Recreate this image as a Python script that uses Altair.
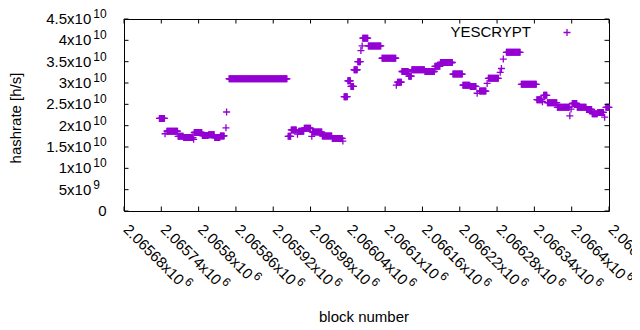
import altair as alt
import pandas as pd

FONT = "Liberation Sans"
PURPLE = "#9400d3"

# runs of consecutive blocks sharing the same hashrate estimate (h/s)
run_start = [2065737, 2065746, 2065749, 2065767, 2065776, 2065792, 2065793, 2065806, 2065816, 2065826,
             2065835, 2065844, 2065845, 2065849, 2065944, 2065949, 2065959, 2065961, 2065970, 2065982,
             2065983, 2065999, 2066015, 2066032, 2066034, 2066040, 2066045, 2066050, 2066056, 2066061,
             2066063, 2066064, 2066073, 2066095, 2066118, 2066120, 2066127, 2066138, 2066143, 2066164,
             2066180, 2066189, 2066209, 2066225, 2066237, 2066248, 2066252, 2066264, 2066266, 2066285,
             2066287, 2066290, 2066295, 2066319, 2066344, 2066353, 2066355, 2066361, 2066377, 2066397,
             2066399, 2066401, 2066409, 2066424, 2066433, 2066442, 2066453, 2066455]
run_end = [2065745, 2065746, 2065766, 2065775, 2065791, 2065792, 2065805, 2065815, 2065825, 2065834,
           2065841, 2065844, 2065845, 2065942, 2065948, 2065957, 2065959, 2065969, 2065980, 2065982,
           2065998, 2066014, 2066031, 2066032, 2066039, 2066044, 2066049, 2066055, 2066060, 2066061,
           2066063, 2066072, 2066093, 2066117, 2066118, 2066126, 2066137, 2066142, 2066163, 2066179,
           2066188, 2066208, 2066224, 2066236, 2066246, 2066248, 2066262, 2066264, 2066282, 2066285,
           2066287, 2066290, 2066317, 2066343, 2066352, 2066353, 2066360, 2066376, 2066396, 2066397,
           2066399, 2066408, 2066423, 2066432, 2066441, 2066451, 2066453, 2066460]
run_hashrate = [2.17e10, 1.81e10, 1.87e10, 1.75e10, 1.72e10, 1.68e10, 1.84e10, 1.77e10, 1.79e10, 1.72e10,
                1.76e10, 1.95e10, 2.32e10, 3.10e10, 1.75e10, 1.90e10, 1.80e10, 1.87e10, 1.94e10, 1.75e10,
                1.85e10, 1.76e10, 1.70e10, 1.64e10, 2.68e10, 3.05e10, 2.92e10, 3.31e10, 3.50e10, 3.76e10,
                3.87e10, 4.05e10, 3.87e10, 3.58e10, 2.95e10, 3.02e10, 3.27e10, 3.16e10, 3.31e10, 3.27e10,
                3.39e10, 3.48e10, 3.21e10, 2.95e10, 2.92e10, 2.76e10, 2.81e10, 2.99e10, 3.11e10, 3.25e10,
                3.34e10, 3.56e10, 3.72e10, 2.97e10, 2.61e10, 2.56e10, 2.71e10, 2.54e10, 2.43e10, 2.23e10,
                2.39e10, 2.52e10, 2.43e10, 2.38e10, 2.28e10, 2.31e10, 2.20e10, 2.43e10]

x_ticks = [2065680, 2065740, 2065800, 2065860, 2065920, 2065980, 2066040,
           2066100, 2066160, 2066220, 2066280, 2066340, 2066400, 2066460]
x_tick_main = ["2.06568x10", "2.06574x10", "2.0658x10", "2.06586x10", "2.06592x10", "2.06598x10",
               "2.06604x10", "2.0661x10", "2.06616x10", "2.06622x10", "2.06628x10", "2.06634x10",
               "2.0664x10", "2.06646x10"]
x_tick_exp = ["6"] * len(x_ticks)

y_ticks = [0, 5e9, 1e10, 1.5e10, 2e10, 2.5e10, 3e10, 3.5e10, 4e10, 4.5e10]
y_tick_main = ["0", "5x10", "1x10", "1.5x10", "2x10", "2.5x10", "3x10", "3.5x10", "4x10", "4.5x10"]
y_tick_exp = ["", "9", "10", "10", "10", "10", "10", "10", "10", "10"]

rows = []
for s, e, v in zip(run_start, run_end, run_hashrate):
    for b in range(s, e + 1):
        rows.append({"block": b, "hashrate": v})
df = pd.DataFrame(rows)

xt = pd.DataFrame({"b": x_ticks, "main": x_tick_main, "exp": x_tick_exp})
yt = pd.DataFrame({"v": y_ticks, "main": y_tick_main, "exp": y_tick_exp})
one = pd.DataFrame({"k": [0]})

W, H = 485, 192
xs = alt.Scale(domain=[2065680, 2066460], nice=False, zero=False)
ys = alt.Scale(domain=[0, 4.5e10], nice=False, zero=False)
PLUS = "M-1,0L1,0M0,-1L0,1"

X = lambda f: alt.X(f, type="quantitative", scale=xs, axis=None)
Y = lambda f: alt.Y(f, type="quantitative", scale=ys, axis=None)

pts = alt.Chart(df).mark_point(shape=PLUS, filled=False, size=49, strokeWidth=1.3,
                               color=PURPLE, opacity=1).encode(x=X("block"), y=Y("hashrate"))

tick_l = alt.Chart(yt).mark_rule(color="black", strokeWidth=1).encode(
    y=Y("v"), x=alt.value(0), x2=alt.value(4.5))
tick_r = alt.Chart(yt).mark_rule(color="black", strokeWidth=1).encode(
    y=Y("v"), x=alt.value(W - 4.5), x2=alt.value(W))
tick_b = alt.Chart(xt).mark_rule(color="black", strokeWidth=1).encode(
    x=X("b"), y=alt.value(H), y2=alt.value(H - 4.5))
tick_t = alt.Chart(xt).mark_rule(color="black", strokeWidth=1).encode(
    x=X("b"), y=alt.value(0), y2=alt.value(4.5))

ylab = alt.Chart(yt).transform_filter("datum.exp != ''").mark_text(
    align="right", baseline="middle", dx=-32.7, font=FONT, fontSize=15, color="black").encode(
    y=Y("v"), x=alt.value(0), text="main:N")
yexp = alt.Chart(yt).transform_filter("datum.exp != ''").mark_text(
    align="left", baseline="alphabetic", dx=-30.7, dy=-1, font=FONT, fontSize=12, color="black").encode(
    y=Y("v"), x=alt.value(0), text="exp:N")
yzero = alt.Chart(yt).transform_filter("datum.exp == ''").mark_text(
    align="right", baseline="middle", dx=-17.4, font=FONT, fontSize=15, color="black").encode(
    y=Y("v"), x=alt.value(0), text="main:N")

xlab = alt.Chart(xt).mark_text(
    align="left", baseline="middle", angle=45, dx=12.7, dy=9.9, font=FONT, fontSize=15,
    color="black").encode(x=X("b"), y=alt.value(H), text="main:N")
xexp = alt.Chart(xt).mark_text(
    align="left", baseline="middle", angle=45,
    dx=alt.ExprRef("14.7 + 11.67 + 8.34 * (length(datum.main) - 2)"), dy=4.2,
    font=FONT, fontSize=12, color="black").encode(x=X("b"), y=alt.value(H), text="exp:N")

ytitle = alt.Chart(one).mark_text(
    text="hashrate [h/s]", angle=270, align="center", baseline="alphabetic", font=FONT,
    fontSize=15, color="black").encode(x=alt.value(-103.5), y=alt.value(99))
xtitle = alt.Chart(one).mark_text(
    text="block number", align="center", baseline="alphabetic", font=FONT,
    fontSize=15, color="black").encode(x=alt.value(240), y=alt.value(303))

leg_text = alt.Chart(one).mark_text(
    text="YESCRYPT", align="right", baseline="alphabetic", font=FONT, fontSize=15,
    color="black").encode(x=alt.value(407), y=alt.value(18.3))
leg_pt = alt.Chart(one).mark_point(shape=PLUS, filled=False, size=49, strokeWidth=1.3,
                                   color=PURPLE, opacity=1).encode(x=alt.value(443), y=alt.value(13.5))

chart = alt.layer(
    pts, tick_l, tick_r, tick_b, tick_t, ylab, yexp, yzero, xlab, xexp,
    ytitle, xtitle, leg_text, leg_pt
).properties(
    width=W, height=H,
    autosize=alt.AutoSizeParams(type="none"),
    padding={"left": 116, "top": 11, "right": 23, "bottom": 111},
).configure_view(stroke="black", strokeWidth=1)

chart.save("out.html", embed_options={"renderer": "svg", "actions": False})
